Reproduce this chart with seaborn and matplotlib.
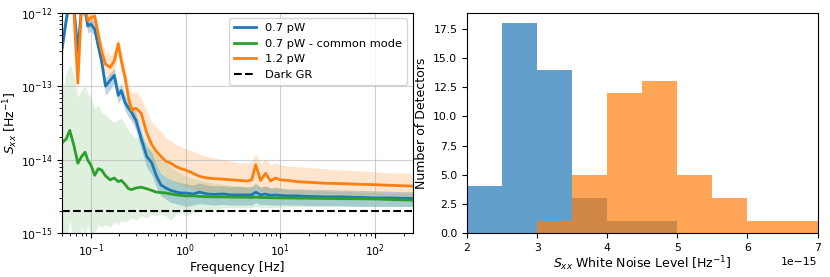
import numpy as np
import seaborn as sns
import matplotlib
matplotlib.use('Agg')
import matplotlib.pyplot as plt
from matplotlib.ticker import MultipleLocator, NullFormatter, FixedLocator

# frequency grid [Hz]
freq = [0.05, 0.055, 0.06, 0.066, 0.073, 0.08, 0.087, 0.093, 0.1, 0.11, 0.12, 0.13, 0.143, 0.16, 0.177,
        0.195, 0.21, 0.23, 0.25, 0.27, 0.3, 0.34, 0.39, 0.44, 0.49, 0.55, 0.62, 0.7, 0.8, 0.9, 1.0, 1.2,
        1.4, 1.7, 2.0, 2.5, 3.0, 3.7, 4.5, 5.0, 5.5, 6.2, 7.0, 7.9, 8.9, 10, 12, 15, 20, 30, 45, 70, 100,
        150, 250]

# 0.7 pW: median, lower / upper spread of the detectors
blue_med = [3.4e-13, 8e-13, 1.5e-12, 1.3e-12, 3e-13, 1.2e-12, 1.1e-12, 6.6e-13, 7e-13, 6e-13, 3.5e-13, 2.2e-13,
            1.0e-13, 1.2e-13, 1.4e-13, 7.5e-14, 8.7e-14, 6e-14, 5e-14, 4.4e-14, 3.4e-14, 1.95e-14, 1.1e-14, 9e-15,
            6.1e-15, 4.5e-15, 4.1e-15, 3.8e-15, 3.6e-15, 3.5e-15, 3.5e-15, 3.4e-15, 3.6e-15, 3.4e-15, 3.35e-15,
            3.4e-15, 3.3e-15, 3.3e-15, 3.3e-15, 3.3e-15, 3.6e-15, 3.3e-15, 3.4e-15, 3.25e-15, 3.3e-15, 3.25e-15,
            3.2e-15, 3.2e-15, 3.15e-15, 3.1e-15, 3.1e-15, 3.05e-15, 3.0e-15, 3.0e-15, 2.95e-15]
blue_lo = [2.6e-13, 6.2e-13, 1.2e-12, 1e-12, 2.3e-13, 9.5e-13, 8.8e-13, 5.3e-13, 5.6e-13, 4.8e-13, 2.8e-13, 1.75e-13,
           7.5e-14, 9e-14, 1.1e-13, 5.8e-14, 6.8e-14, 4.6e-14, 3.8e-14, 3.4e-14, 2.5e-14, 1.4e-14, 7.8e-15, 6.2e-15,
           4.3e-15, 3.2e-15, 2.9e-15, 2.6e-15, 2.5e-15, 2.4e-15, 2.3e-15, 2.4e-15, 2.5e-15, 2.45e-15, 2.4e-15,
           2.45e-15, 2.4e-15, 2.4e-15, 2.4e-15, 2.4e-15, 2.6e-15, 2.4e-15, 2.45e-15, 2.4e-15, 2.4e-15, 2.4e-15,
           2.4e-15, 2.4e-15, 2.35e-15, 2.35e-15, 2.35e-15, 2.3e-15, 2.3e-15, 2.3e-15, 2.3e-15]
blue_hi = [4.5e-13, 1e-12, 1.9e-12, 1.6e-12, 4e-13, 1.5e-12, 1.35e-12, 8e-13, 8.5e-13, 7.5e-13, 4.4e-13, 2.8e-13,
           1.3e-13, 1.5e-13, 1.75e-13, 9.5e-14, 1.1e-13, 7.5e-14, 6.3e-14, 5.5e-14, 4.3e-14, 2.6e-14, 1.5e-14,
           1.25e-14, 8.5e-15, 6.5e-15, 5.8e-15, 5.3e-15, 5e-15, 4.8e-15, 4.7e-15, 4.5e-15, 4.8e-15, 4.5e-15,
           4.4e-15, 4.4e-15, 4.3e-15, 4.3e-15, 4.2e-15, 4.3e-15, 4.8e-15, 4.2e-15, 4.4e-15, 4.1e-15, 4.2e-15,
           4.1e-15, 4e-15, 4e-15, 3.95e-15, 3.9e-15, 3.85e-15, 3.8e-15, 3.75e-15, 3.7e-15, 3.65e-15]

# 0.7 pW - common mode
green_med = [1.7e-14, 1.9e-14, 2.5e-14, 1.6e-14, 8.9e-15, 1.1e-14, 1.26e-14, 9.8e-15, 8.5e-15, 6.1e-15, 7.5e-15,
             7.2e-15, 6e-15, 5.3e-15, 5.6e-15, 5.0e-15, 5.2e-15, 4.6e-15, 4.0e-15, 3.9e-15, 4.1e-15, 4.2e-15,
             4.0e-15, 3.8e-15, 3.6e-15, 3.55e-15, 3.5e-15, 3.4e-15, 3.3e-15, 3.25e-15, 3.2e-15, 3.2e-15, 3.15e-15,
             3.12e-15, 3.1e-15, 3.1e-15, 3.08e-15, 3.07e-15, 3.06e-15, 3.05e-15, 3.08e-15, 3.04e-15, 3.04e-15,
             3.02e-15, 3.01e-15, 3.0e-15, 3.0e-15, 2.98e-15, 2.97e-15, 2.95e-15, 2.93e-15, 2.92e-15, 2.9e-15,
             2.85e-15, 2.8e-15]
green_lo = [8e-16, 7e-16, 1.5e-15, 7e-16, 8e-16, 1.2e-15, 8e-16, 1.3e-15, 9e-16, 1e-15, 1.3e-15, 1.2e-15, 1.3e-15,
            1.2e-15, 1.4e-15, 1.3e-15, 1.5e-15, 1.4e-15, 1.5e-15, 1.6e-15, 1.5e-15, 1.7e-15, 1.6e-15, 1.8e-15,
            1.7e-15, 1.8e-15, 1.7e-15, 1.5e-15, 1.8e-15, 1.9e-15, 1.7e-15, 1.9e-15, 2e-15, 2.1e-15, 2.1e-15,
            2.2e-15, 2.2e-15, 2.2e-15, 2.2e-15, 2.2e-15, 2.3e-15, 2.2e-15, 2.25e-15, 2.2e-15, 2.25e-15, 2.25e-15,
            2.25e-15, 2.3e-15, 2.3e-15, 2.3e-15, 2.3e-15, 2.3e-15, 2.3e-15, 2.3e-15, 2.3e-15]
green_hi = [8e-14, 1.5e-13, 2e-13, 1.5e-13, 7e-14, 9e-14, 1e-13, 8e-14, 7e-14, 5e-14, 5.5e-14, 4.5e-14, 4e-14,
            3.5e-14, 3.2e-14, 3.5e-14, 3.7e-14, 3e-14, 2.5e-14, 2.2e-14, 2e-14, 2.1e-14, 1.6e-14, 1.4e-14, 1.2e-14,
            1e-14, 9e-15, 8e-15, 7e-15, 6.5e-15, 6e-15, 5.5e-15, 5.3e-15, 5e-15, 4.8e-15, 4.6e-15, 4.5e-15,
            4.4e-15, 4.3e-15, 4.3e-15, 4.5e-15, 4.2e-15, 4.3e-15, 4.1e-15, 4.1e-15, 4e-15, 3.9e-15, 3.85e-15,
            3.8e-15, 3.7e-15, 3.65e-15, 3.6e-15, 3.55e-15, 3.5e-15, 3.45e-15]

# 1.2 pW
orange_med = [2e-12, 2e-12, 1.5e-12, 1.2e-12, 1.1e-13, 1.3e-12, 1.2e-12, 7.8e-13, 8.5e-13, 9e-13, 5e-13, 3e-13,
              2e-13, 1.8e-13, 2.2e-13, 3.8e-13, 2.2e-13, 1.3e-13, 7e-14, 4.7e-14, 5e-14, 4.3e-14, 2.3e-14, 1.6e-14,
              1.3e-14, 1.1e-14, 9.5e-15, 8.9e-15, 8e-15, 7.5e-15, 7.2e-15, 6.5e-15, 5.9e-15, 5.6e-15, 5.5e-15,
              5.4e-15, 5.3e-15, 5.2e-15, 5.1e-15, 5.3e-15, 8.5e-15, 5.2e-15, 6.5e-15, 5.1e-15, 5.6e-15, 5.3e-15,
              5.2e-15, 5.0e-15, 4.9e-15, 4.75e-15, 4.7e-15, 4.6e-15, 4.55e-15, 4.45e-15, 4.35e-15]
orange_lo = [1.5e-12, 1.5e-12, 1.1e-12, 9e-13, 8e-14, 1e-12, 9e-13, 6e-13, 6.5e-13, 7e-13, 3.8e-13, 2.3e-13,
             1.5e-13, 1.35e-13, 1.6e-13, 2.8e-13, 1.7e-13, 9.5e-14, 5e-14, 3.3e-14, 3.5e-14, 2.8e-14, 1.5e-14, 1e-14,
             8e-15, 6.8e-15, 5.8e-15, 5.3e-15, 4.8e-15, 4.5e-15, 4.3e-15, 4e-15, 3.8e-15, 3.7e-15, 3.6e-15, 3.6e-15,
             3.5e-15, 3.5e-15, 3.5e-15, 3.5e-15, 4.5e-15, 3.5e-15, 3.8e-15, 3.5e-15, 3.6e-15, 3.5e-15, 3.5e-15,
             3.45e-15, 3.4e-15, 3.4e-15, 3.35e-15, 3.3e-15, 3.3e-15, 3.25e-15, 3.2e-15]
orange_hi = [2.5e-12, 2.5e-12, 2e-12, 1.6e-12, 1.6e-13, 1.7e-12, 1.5e-12, 1e-12, 1.05e-12, 1.1e-12, 6.5e-13, 4e-13,
             3e-13, 2.6e-13, 3e-13, 4.6e-13, 3e-13, 1.9e-13, 1.1e-13, 8e-14, 8.5e-14, 7e-14, 4.5e-14, 3.2e-14,
             2.8e-14, 2.4e-14, 2e-14, 1.8e-14, 1.6e-14, 1.5e-14, 1.4e-14, 1.3e-14, 1.2e-14, 1.1e-14, 1.05e-14,
             1e-14, 9.5e-15, 9e-15, 9e-15, 9.5e-15, 1.2e-14, 9e-15, 1e-14, 8.5e-15, 9e-15, 8.5e-15, 8.2e-15, 8e-15,
             7.8e-15, 7.5e-15, 7.2e-15, 7e-15, 6.8e-15, 6.6e-15, 6.5e-15]

dark_gr = 2e-15

# white noise histogram: bin edges and detector counts
bin_edges = [2.0e-15, 2.5e-15, 3.0e-15, 3.5e-15, 4.0e-15, 4.5e-15, 5.0e-15, 5.5e-15, 6.0e-15, 6.5e-15, 7.0e-15]
counts_07 = [4, 18, 14, 3, 1, 1, 0, 0, 0, 0]
counts_12 = [0, 0, 1, 5, 12, 13, 5, 3, 1, 1]

plt.rcParams['font.size'] = 9
plt.rcParams['xtick.labelsize'] = 7.8
plt.rcParams['ytick.labelsize'] = 7.8
plt.rcParams['legend.fontsize'] = 8.2
c_blue, c_orange, c_green = '#1f77b4', '#ff7f0e', '#2ca02c'

fig, (ax1, ax2) = plt.subplots(1, 2, figsize=(8.3, 2.77), dpi=100)
fig.subplots_adjust(left=0.075, right=0.985, bottom=0.159, top=0.954, wspace=0.155)

series = [('0.7 pW', c_blue, blue_med, blue_lo, blue_hi, 0.3),
          ('0.7 pW - common mode', c_green, green_med, green_lo, green_hi, 0.15),
          ('1.2 pW', c_orange, orange_med, orange_lo, orange_hi, 0.2)]
for label, col, med, lo, hi, a in series:
    ax1.fill_between(freq, lo, hi, color=col, alpha=a, lw=0)
    sns.lineplot(x=freq, y=med, color=col, lw=2, label=label, ax=ax1)
ax1.axhline(dark_gr, color='k', ls='--', lw=1.5, label='Dark GR')
ax1.set_xscale('log')
ax1.set_yscale('log')
ax1.set_xlim(0.05, 250)
ax1.set_ylim(1e-15, 1e-12)
ax1.xaxis.set_major_locator(FixedLocator([0.1, 1, 10, 100]))
ax1.yaxis.set_major_locator(FixedLocator([1e-15, 1e-14, 1e-13, 1e-12]))
ax1.xaxis.set_minor_formatter(NullFormatter())
ax1.yaxis.set_minor_formatter(NullFormatter())
ax1.grid(True, which='major', color='#b0b0b0', alpha=0.6)
ax1.set_xlabel('Frequency [Hz]', labelpad=1)
ax1.set_ylabel(r'$S_{xx}$ [Hz$^{-1}$]')
ax1.yaxis.set_label_coords(-0.12, 0.5)
ax1.legend(loc='upper right')

centers = [(a + b) / 2 for a, b in zip(bin_edges[:-1], bin_edges[1:])]
sns.histplot(x=centers, weights=counts_07, bins=bin_edges, color=c_blue, alpha=0.7,
             linewidth=0, ax=ax2)
sns.histplot(x=centers, weights=counts_12, bins=bin_edges, color=c_orange, alpha=0.7,
             linewidth=0, ax=ax2)
ax2.set_xlim(2e-15, 7e-15)
ax2.yaxis.set_major_locator(MultipleLocator(2.5))
ax2.set_xlabel(r'$S_{xx}$ White Noise Level [Hz$^{-1}$]', labelpad=1)
ax2.set_ylabel('Number of Detectors')
ax2.yaxis.set_label_coords(-0.112, 0.5)

fig.savefig('out.png', dpi=100)
